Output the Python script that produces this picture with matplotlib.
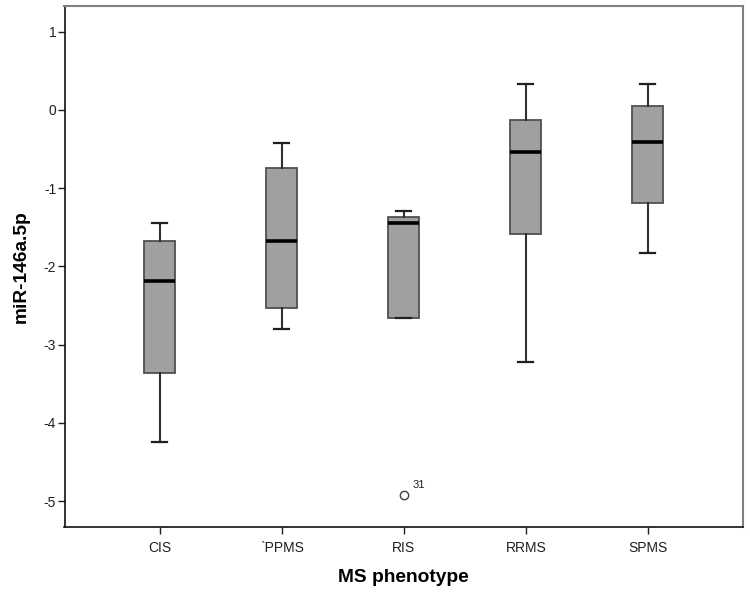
import matplotlib
matplotlib.use("Agg")
import matplotlib.pyplot as plt

plt.rcParams['font.family'] = ['Liberation Sans', 'DejaVu Sans']
plt.rcParams['axes.unicode_minus'] = False

categories = ["CIS", "`PPMS", "RIS", "RRMS", "SPMS"]
whisker_low = [-4.24, -2.80, -2.66, -3.22, -1.83]
q1 = [-3.355, -2.53, -2.66, -1.586, -1.19]
median = [-2.18, -1.668, -1.45, -0.533, -0.414]
q3 = [-1.668, -0.747, -1.368, -0.133, 0.046]
whisker_high = [-1.441, -0.418, -1.288, 0.336, 0.332]
outlier_group = [2]
outlier_value = [-4.92]
outlier_label = ["31"]

stats = []
for i, c in enumerate(categories):
    fl = [v for g, v in zip(outlier_group, outlier_value) if g == i]
    stats.append(dict(label=c, whislo=whisker_low[i], q1=q1[i], med=median[i],
                      q3=q3[i], whishi=whisker_high[i], fliers=fl))

fig = plt.figure(figsize=(7.5, 5.93), dpi=100)
ax = fig.add_axes([0.086, 0.1108, 0.9047, 0.8796])

ax.bxp(stats, positions=range(len(categories)), widths=0.255, patch_artist=True,
       boxprops=dict(facecolor='#a0a0a0', edgecolor='#505050', linewidth=1.3),
       medianprops=dict(color='black', linewidth=2.6),
       whiskerprops=dict(color='#303030', linewidth=1.5),
       capprops=dict(color='#202020', linewidth=1.6),
       capwidths=0.125,
       flierprops=dict(marker='o', markerfacecolor='white', markeredgecolor='#404040',
                       markersize=6, markeredgewidth=1.0))

for g, v, lab in zip(outlier_group, outlier_value, outlier_label):
    ax.annotate(lab, (g, v), xytext=(6, 5), textcoords='offset points',
                fontsize=8, color='#202020')

ax.set_xlim(-0.78, 4.78)
ax.set_ylim(-5.333, 1.333)
ax.set_yticks([1, 0, -1, -2, -3, -4, -5])
ax.set_xticks(range(len(categories)))
ax.set_xticklabels(categories)
ax.tick_params(axis='both', labelsize=10, colors='#202020', length=5, width=1.0)
ax.tick_params(axis='y', pad=1)
ax.tick_params(axis='x', pad=5)

for s in ['left', 'bottom']:
    ax.spines[s].set_color('#101010')
    ax.spines[s].set_linewidth(1.2)
for s in ['top', 'right']:
    ax.spines[s].set_color('#808080')
    ax.spines[s].set_linewidth(1.5)

ax.set_xlabel("MS phenotype", fontsize=13.8, fontweight='bold', labelpad=10)
ax.set_ylabel("miR-146a.5p", fontsize=13.8, fontweight='bold', labelpad=10)

fig.savefig("out.png", dpi=100)
